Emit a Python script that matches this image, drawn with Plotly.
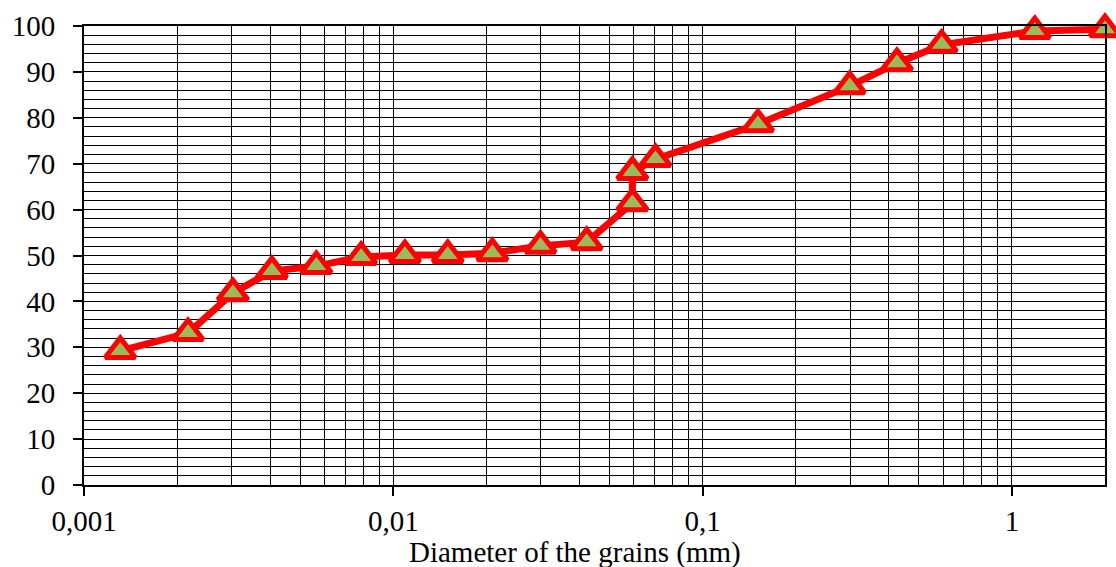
import plotly.graph_objects as go
import numpy as np

# Grain-size distribution (passing percentage vs. grain diameter)
diameter_mm = [0.00131, 0.00217, 0.00303, 0.00405, 0.00564, 0.00787, 0.0109, 0.0150,
               0.0209, 0.0299, 0.0422, 0.0593, 0.0593, 0.0704, 0.151, 0.299, 0.425,
               0.593, 1.186, 2.0]
passing_pct = [29.2, 33.1, 41.8, 46.6, 47.7, 49.7, 50.1, 50.1, 50.5, 52.1, 52.9,
               61.4, 68.2, 71.0, 78.6, 86.9, 91.9, 95.9, 98.9, 99.3]

x_tick_vals = [0.001, 0.01, 0.1, 1]
x_tick_text = ["0,001", "0,01", "0,1", "1"]
x_minor_vals = [m * d for d in [0.001, 0.01, 0.1, 1] for m in range(2, 10)]

FONT = "Times New Roman"

fig = go.Figure()
fig.add_trace(go.Scatter(
    x=diameter_mm, y=passing_pct,
    mode="lines+markers",
    line=dict(color="#ff0000", width=7),
    marker=dict(symbol="triangle-up", size=26, color="#9bbb59",
                line=dict(color="#ff0000", width=5)),
    cliponaxis=False,
    showlegend=False,
))

fig.update_layout(
    width=1116, height=567,
    margin=dict(l=84, r=11, t=26, b=82),
    paper_bgcolor="white", plot_bgcolor="white",
    font=dict(family=FONT, size=29, color="black"),
    xaxis=dict(
        type="log", range=[-3, np.log10(2)], automargin=False,
        tickmode="array", tickvals=x_tick_vals, ticktext=x_tick_text,
        ticks="outside", ticklen=9, tickwidth=2, tickcolor="black",
        showgrid=True, gridcolor="black", gridwidth=1,
        minor=dict(tickmode="array", tickvals=x_minor_vals, showgrid=True,
                   gridcolor="black", gridwidth=1, ticks=""),
        showline=True, linecolor="black", linewidth=2, mirror=True,
        ticklabelstandoff=0,
        tickfont=dict(family=FONT, size=29),
        zeroline=False,
    ),
    yaxis=dict(
        range=[0, 100], dtick=10, automargin=False,
        ticks="outside", ticklen=9, tickwidth=2, tickcolor="black",
        showgrid=True, gridcolor="black", gridwidth=1,
        minor=dict(dtick=2, showgrid=True, gridcolor="black", gridwidth=1, ticks=""),
        showline=True, linecolor="black", linewidth=2, mirror=True,
        ticklabelstandoff=12,
        tickfont=dict(family=FONT, size=29),
        zeroline=False,
    ),
    annotations=[dict(
        text="Diameter of the grains (mm)", xref="paper", yref="paper",
        x=0.481, y=-0.146, xanchor="center", yanchor="middle",
        showarrow=False, font=dict(family=FONT, size=29, color="black"),
    )],
)

fig.write_html("out.html")
